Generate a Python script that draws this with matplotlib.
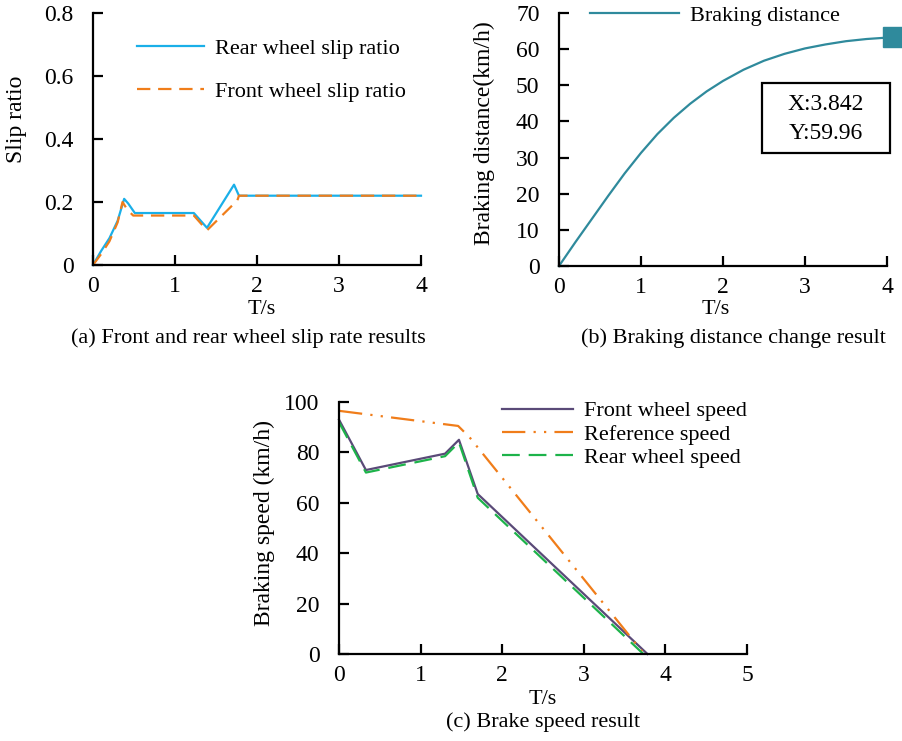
import matplotlib.pyplot as plt
from matplotlib.patches import Rectangle

plt.rcParams['font.family'] = ['Liberation Serif', 'DejaVu Serif']
plt.rcParams['font.size'] = 16

# (a) slip ratio
t_rear = [0, 0.1, 0.2, 0.3, 0.38, 0.43, 0.51, 1.23, 1.39, 1.72, 1.78, 4.0]
rear_slip = [0, 0.045, 0.085, 0.14, 0.21, 0.195, 0.165, 0.165, 0.118, 0.255, 0.22, 0.22]
t_front = [0, 0.1, 0.2, 0.3, 0.36, 0.42, 0.49, 1.23, 1.39, 1.76, 1.78, 4.0]
front_slip = [0, 0.035, 0.075, 0.135, 0.2, 0.175, 0.157, 0.157, 0.11, 0.205, 0.22, 0.22]

# (b) braking distance
t_dist = [0, 0.2, 0.4, 0.6, 0.8, 1.0, 1.2, 1.4, 1.6, 1.8, 2.0, 2.25, 2.5, 2.75, 3.0, 3.25, 3.5, 3.75, 4.07]
distance = [0, 6.6, 13, 19.4, 25.6, 31.3, 36.5, 41, 44.9, 48.3, 51.2, 54.3, 56.8, 58.7, 60.2, 61.3, 62.2, 62.8, 63.3]

# (c) speeds
t_fw = [0, 0.33, 1.3, 1.47, 1.7, 3.78]
front_speed = [93, 73, 79.5, 85, 63.5, 0]
t_ref = [0, 1.46, 1.6, 3.74]
ref_speed = [96.5, 90.5, 86, 0]
t_rw = [0, 0.33, 1.3, 1.47, 1.7, 3.73]
rear_speed = [92, 72, 78.5, 84, 62, 0]

W, H = 902, 741
fig = plt.figure(figsize=(W / 100, H / 100), dpi=100)


def make_ax(l, r, t, b):
    ax = fig.add_axes([l / W, (H - b) / H, (r - l) / W, (b - t) / H])
    for s in ['top', 'right']:
        ax.spines[s].set_visible(False)
    for s in ['left', 'bottom']:
        ax.spines[s].set_linewidth(1.6)
    ax.tick_params(direction='in', length=7, width=1.6, labelsize=17)
    ax.tick_params(axis='y', pad=14)
    ax.tick_params(axis='x', pad=8)
    return ax


# ---- (a)
ax1 = make_ax(93, 421, 13, 265)
ax1.plot(t_rear, rear_slip, color='#1AAFE8', lw=1.6, label='Rear wheel slip ratio', clip_on=False)
ax1.plot(t_front, front_slip, color='#F07D1A', lw=1.6, ls=(0, (6, 3.5)), label='Front wheel slip ratio', clip_on=False)
ax1.set_xlim(0, 4)
ax1.set_ylim(0, 0.8)
ax1.set_xticks([0, 1, 2, 3, 4])
ax1.set_yticks([0, 0.2, 0.4, 0.6, 0.8])
ax1.set_yticklabels(['0', '0.2', '0.4', '0.6', '0.8'])
ax1.set_ylabel('Slip ratio', fontsize=17)
ax1.yaxis.set_label_coords(-0.20, 0.58)
ax1.set_xlabel('T/s')
ax1.xaxis.set_label_coords(0.515, -0.139)
ax1.legend(loc='upper left', bbox_to_anchor=(0.134, 0.90), frameon=False, borderpad=0,
           borderaxespad=0, handlelength=3.0, handletextpad=0.5, labelspacing=1.0)

# ---- (b)
ax2 = make_ax(559, 887, 13, 266)
ax2.plot(t_dist, distance, color='#2F8A9C', lw=1.6, label='Braking distance', clip_on=False)
ax2.plot(t_dist[-1:], distance[-1:], ls='none', marker='s', ms=14, color='#2F8A9C', clip_on=False)
ax2.set_xlim(0, 4)
ax2.set_ylim(0, 70)
ax2.set_xticks([0, 1, 2, 3, 4])
ax2.set_yticks(range(0, 71, 10))
ax2.set_ylabel('Braking distance(km/h)', fontsize=17)
ax2.yaxis.set_label_coords(-0.195, 0.526)
ax2.set_xlabel('T/s')
ax2.xaxis.set_label_coords(0.479, -0.134)
ax2.legend(loc='upper left', bbox_to_anchor=(0.0945, 1.03), frameon=False, borderpad=0,
           borderaxespad=0, handlelength=4.0, handletextpad=0.5)
ax2.add_patch(Rectangle((0.619, 0.447), 0.39, 0.276, transform=ax2.transAxes, fill=False,
                        ec='black', lw=1.6, clip_on=False))
ax2.text(0.814, 0.583, 'X:3.842\nY:59.96', transform=ax2.transAxes, ha='center', va='center',
         linespacing=1.5, fontsize=17)

# ---- (c)
ax3 = make_ax(339, 747, 402, 654)
ax3.plot(t_fw, front_speed, color='#5A4A78', lw=1.6, label='Front wheel speed', clip_on=False)
ax3.plot(t_ref, ref_speed, color='#F07D1A', lw=1.6, ls=(0, (10.5, 3.7, 1, 3.7, 1, 3.7)),
         label='Reference speed', clip_on=False)
ax3.plot(t_rw, rear_speed, color='#1DB34A', lw=1.6, ls=(0, (8, 4)), label='Rear wheel speed', clip_on=False)
ax3.set_xlim(0, 5)
ax3.set_ylim(0, 100)
ax3.set_xticks([0, 1, 2, 3, 4, 5])
ax3.set_yticks([0, 20, 40, 60, 80, 100])
ax3.set_ylabel('Braking speed (km/h)', fontsize=17)
ax3.yaxis.set_label_coords(-0.157, 0.52)
ax3.set_xlabel('T/s')
ax3.xaxis.set_label_coords(0.5, -0.143)
ax3.legend(loc='upper left', bbox_to_anchor=(0.4, 1.005), frameon=False, borderpad=0,
           borderaxespad=0, handlelength=3.2, handletextpad=0.5, labelspacing=0.12)

# captions
fig.text(248 / W, 1 - 338 / H, '(a) Front and rear wheel slip rate results', ha='center', va='center')
fig.text(733 / W, 1 - 338 / H, '(b) Braking distance change result', ha='center', va='center')
fig.text(543 / W, 1 - 722 / H, '(c) Brake speed result', ha='center', va='center')

fig.savefig('out.png', dpi=100)
